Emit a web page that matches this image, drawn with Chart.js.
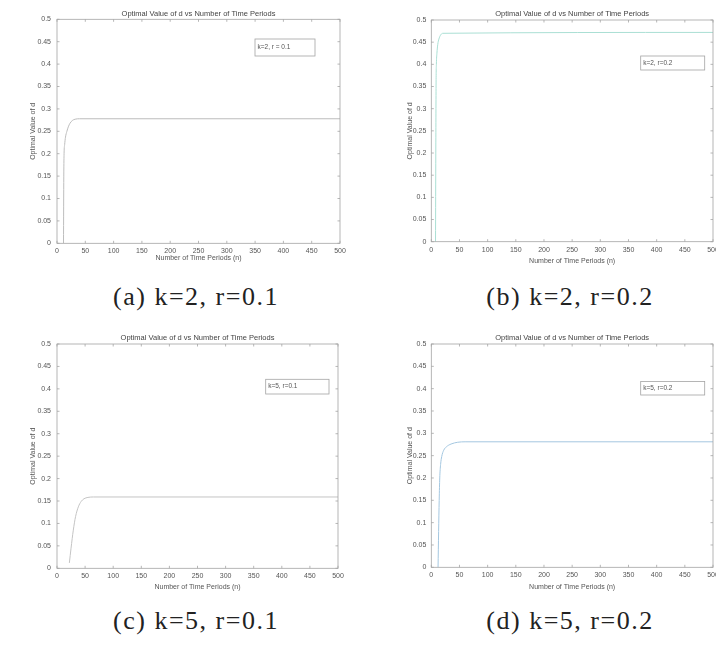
<!DOCTYPE html>
<html>
<head>
<meta charset="utf-8">
<script src="https://cdn.jsdelivr.net/npm/chart.js@4.4.1/dist/chart.umd.min.js"></script>
<style>
  html, body { margin: 0; padding: 0; background: #fff; }
  #page { position: relative; width: 716px; height: 650px; overflow: hidden; }
  .panel { position: absolute; width: 358px; height: 275px; }
  .cap {
    position: absolute; transform: translateX(-50%); white-space: nowrap;
    font-family: "Liberation Serif", "DejaVu Serif", serif; font-size: 26px;
    line-height: 30px; letter-spacing: 1.5px; color: #222;
  }
</style>
</head>
<body>
<div id="page">
  <div class="panel" style="left:0px;top:0px"><canvas id="chartA" width="358" height="275"></canvas></div>
  <div class="panel" style="left:358px;top:0px"><canvas id="chartB" width="358" height="275"></canvas></div>
  <div class="panel" style="left:0px;top:320px"><canvas id="chartC" width="358" height="275"></canvas></div>
  <div class="panel" style="left:358px;top:320px"><canvas id="chartD" width="358" height="275"></canvas></div>
  <div class="cap" style="left:196px;top:282px">(a) k=2, r=0.1</div>
  <div class="cap" style="left:570px;top:282px">(b) k=2, r=0.2</div>
  <div class="cap" style="left:196px;top:606px">(c) k=5, r=0.1</div>
  <div class="cap" style="left:570px;top:606px">(d) k=5, r=0.2</div>
</div>
<script>
// values
const nA = [11.5, 12, 12.5, 13.5, 15, 17.5, 20, 23, 27, 32, 40, 500];
const dA = [0, 0.15, 0.2, 0.22, 0.237, 0.25, 0.26, 0.268, 0.274, 0.277, 0.278, 0.278];

const nB = [7.5, 8, 8.5, 9, 10, 11.5, 13.5, 16, 20, 500];
const dB = [0, 0.2, 0.36, 0.4, 0.425, 0.445, 0.457, 0.465, 0.47, 0.472];

const nC = [22, 25, 29, 33, 38, 43, 48, 55, 65, 500];
const dC = [0.012, 0.045, 0.085, 0.115, 0.137, 0.149, 0.155, 0.158, 0.159, 0.159];

const nD = [12, 13, 14, 15, 16.5, 18.5, 22, 27, 35, 47, 60, 500];
const dD = [0, 0.08, 0.15, 0.2, 0.23, 0.248, 0.262, 0.27, 0.276, 0.28, 0.281, 0.281];

const xTicks = [0, 50, 100, 150, 200, 250, 300, 350, 400, 450, 500];
const yTicks = [0, 0.05, 0.1, 0.15, 0.2, 0.25, 0.3, 0.35, 0.4, 0.45, 0.5];
const yTickLabels = ['0', '0.05', '0.1', '0.15', '0.2', '0.25', '0.3', '0.35', '0.4', '0.45', '0.5'];

const titleText = 'Optimal Value of d vs Number of Time Periods';
const xTitle = 'Number of Time Periods (n)';
const yTitle = 'Optimal Value of d';

const axisColor = '#a4a4a4';
const textColor = '#555';
const sans = 'Liberation Sans, Arial, sans-serif';

// draws the matlab style box with inward ticks
const boxPlugin = {
  id: 'mBox',
  afterDatasetsDraw(chart) {
    const { ctx, chartArea: a, scales: { x, y } } = chart;
    ctx.save();
    ctx.strokeStyle = axisColor;
    ctx.lineWidth = 0.8;
    ctx.strokeRect(a.left, a.top, a.right - a.left, a.bottom - a.top);
    ctx.beginPath();
    x.ticks.forEach(t => {
      const px = x.getPixelForValue(t.value);
      ctx.moveTo(px, a.bottom); ctx.lineTo(px, a.bottom - 2.5);
      ctx.moveTo(px, a.top); ctx.lineTo(px, a.top + 2.5);
    });
    y.ticks.forEach(t => {
      const py = y.getPixelForValue(t.value);
      ctx.moveTo(a.left, py); ctx.lineTo(a.left + 2.5, py);
      ctx.moveTo(a.right, py); ctx.lineTo(a.right - 2.5, py);
    });
    ctx.stroke();

    const lg = chart.options.plugins.mBox.legend;
    ctx.fillStyle = '#fff';
    ctx.fillRect(lg.x, lg.y, lg.w, lg.h);
    ctx.strokeRect(lg.x, lg.y, lg.w, lg.h);
    ctx.fillStyle = textColor;
    ctx.font = '6.5px ' + sans;
    ctx.textBaseline = 'middle';
    ctx.fillText(chart.data.datasets[0].label, lg.x + 2.5, lg.y + lg.h / 2);
    ctx.restore();
  }
};

function noPad(s) {
  s.paddingLeft = 0; s.paddingRight = 0; s.paddingTop = 0; s.paddingBottom = 0;
}

function makeChart(p) {
  const pts = p.n.map((v, i) => ({ x: v, y: p.d[i] }));
  new Chart(document.getElementById(p.id), {
    type: 'line',
    data: {
      datasets: [{
        label: p.label,
        data: pts,
        borderColor: p.color,
        borderWidth: 1,
        pointRadius: 0,
        cubicInterpolationMode: 'monotone',
        fill: false
      }]
    },
    options: {
      responsive: false,
      animation: false,
      layout: { padding: { left: 0, right: p.padR, top: 0, bottom: 0 } },
      plugins: {
        legend: { display: false },
        tooltip: { enabled: false },
        title: {
          display: true, text: titleText, fullSize: false, color: '#444',
          font: { family: sans, size: 7.5, weight: 'normal' }, padding: { top: p.tTop, bottom: p.tBot }
        },
        mBox: { legend: p.legend }
      },
      scales: {
        x: {
          type: 'linear', min: 0, max: 500,
          afterBuildTicks: s => { s.ticks = xTicks.map(v => ({ value: v })); },
          afterFit: s => { s.height = p.xH; noPad(s); },
          grid: { display: false, drawTicks: false },
          border: { display: false },
          ticks: { color: textColor, font: { family: sans, size: 7 }, padding: 4, maxRotation: 0 },
          title: { display: true, text: xTitle, color: textColor, font: { family: sans, size: 7 }, padding: { top: 0, bottom: p.xtPad } }
        },
        y: {
          type: 'linear', min: 0, max: 0.5,
          afterBuildTicks: s => { s.ticks = yTicks.map(v => ({ value: v })); },
          afterFit: s => { s.width = p.yW; noPad(s); },
          grid: { display: false, drawTicks: false },
          border: { display: false },
          ticks: { color: textColor, font: { family: sans, size: 7 }, padding: p.ytPad, callback: (v, i) => yTickLabels[i] },
          title: { display: true, text: yTitle, color: textColor, font: { family: sans, size: 7 }, padding: { top: p.yTitlePad, bottom: 0 } }
        }
      }
    },
    plugins: [boxPlugin]
  });
}

makeChart({ id: 'chartA', n: nA, d: dA, label: 'k=2, r = 0.1', color: '#bdbdbd',
  yW: 57, padR: 18, tTop: 9.5, tBot: 0.8, xH: 31.7, xtPad: 12.8, ytPad: 6, yTitlePad: 29,
  legend: { x: 255, y: 39, w: 60, h: 17 } });
makeChart({ id: 'chartB', n: nB, d: dB, label: 'k=2, r=0.2', color: '#aadfd4',
  yW: 73.3, padR: 3, tTop: 9.5, tBot: 1.5, xH: 33.3, xtPad: 9.8, ytPad: 5, yTitlePad: 47.5,
  legend: { x: 282.7, y: 56, w: 64, h: 14 } });
makeChart({ id: 'chartC', n: nC, d: dC, label: 'k=5, r=0.1', color: '#c4c4c4',
  yW: 57, padR: 20, tTop: 13.5, tBot: 1.5, xH: 26.7, xtPad: 4.1, ytPad: 6, yTitlePad: 29,
  legend: { x: 265.7, y: 59.3, w: 63.3, h: 14.7 } });
makeChart({ id: 'chartD', n: nD, d: dD, label: 'k=5, r=0.2', color: '#a4c7e0',
  yW: 73.3, padR: 3, tTop: 13.5, tBot: 1.5, xH: 27.7, xtPad: 4.1, ytPad: 5, yTitlePad: 47.5,
  legend: { x: 282.7, y: 61.5, w: 64, h: 13.5 } });
</script>
</body>
</html>
